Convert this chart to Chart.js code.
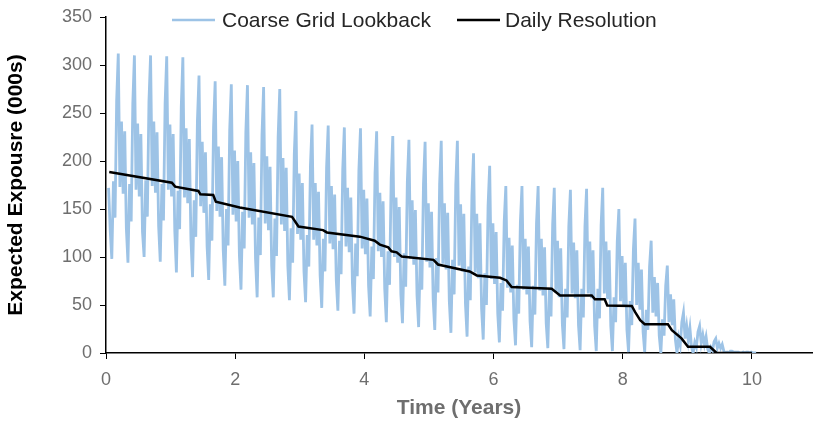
<!DOCTYPE html>
<html>
<head>
<meta charset="utf-8">
<script src="https://cdn.jsdelivr.net/npm/chart.js@4.4.1/dist/chart.umd.min.js"></script>
<style>
  body { margin: 0; background: #fff; }
  #chart { display: block; }
</style>
</head>
<body>
<canvas id="chart" width="814" height="423"></canvas>
<script>
// Expected exposure profile: coarse grid lookback vs daily resolution

// Coarse grid lookback, sampled every 0.025 years starting at t = 0.04
const coarseStart = 0.04;
const coarseStep = 0.025;
const coarseLead = [172, 128];
// one row per quarter (quarterly reset pattern)
const coarseQuarters = [
    [98, 179, 141, 263, 312, 173, 241, 166, 231, 130],
    [94, 176, 137, 260, 310, 170, 239, 163, 228, 126],
    [100, 180, 142, 262, 310, 174, 241, 167, 230, 132],
    [95, 176, 138, 260, 309, 170, 238, 163, 228, 127],
    [84, 169, 129, 256, 308, 162, 234, 156, 223, 118],
    [79, 159, 121, 241, 289, 153, 220, 146, 209, 111],
    [76, 155, 117, 235, 283, 148, 215, 142, 204, 107],
    [70, 150, 112, 232, 280, 144, 211, 137, 200, 102],
    [66, 147, 109, 230, 279, 141, 209, 134, 198, 98],
    [58, 141, 102, 227, 277, 135, 205, 128, 194, 91],
    [58, 140, 101, 225, 275, 134, 203, 127, 193, 91],
    [55, 130, 94, 207, 252, 124, 187, 118, 177, 85],
    [53, 123, 90, 195, 238, 118, 177, 112, 168, 81],
    [47, 119, 85, 193, 237, 114, 174, 108, 165, 76],
    [44, 117, 82, 191, 235, 111, 172, 105, 162, 73],
    [41, 114, 80, 190, 234, 109, 170, 103, 161, 70],
    [38, 111, 77, 187, 231, 106, 167, 100, 158, 67],
    [32, 106, 71, 181, 226, 100, 162, 94, 152, 61],
    [31, 104, 69, 178, 222, 98, 159, 92, 149, 60],
    [27, 100, 66, 176, 220, 95, 156, 89, 147, 56],
    [24, 99, 63, 176, 221, 93, 156, 87, 146, 54],
    [21, 97, 61, 175, 221, 91, 155, 85, 145, 51],
    [17, 90, 55, 164, 208, 84, 145, 78, 135, 46],
    [14, 83, 50, 153, 195, 77, 135, 72, 126, 41],
    [11, 73, 44, 137, 174, 68, 120, 63, 112, 35],
    [8, 71, 41, 136, 174, 66, 119, 61, 111, 33],
    [6, 70, 40, 135, 174, 65, 119, 60, 110, 31],
    [5, 68, 38, 134, 172, 63, 117, 58, 109, 30],
    [4, 67, 37, 132, 170, 62, 115, 57, 107, 29],
    [3, 67, 37, 132, 171, 62, 116, 57, 107, 28],
    [2, 67, 36, 133, 172, 62, 116, 56, 107, 28],
    [2, 58, 32, 116, 150, 54, 101, 49, 94, 24],
    [1, 54, 29, 108, 140, 50, 94, 45, 87, 22],
    [1, 45, 24, 90, 117, 42, 79, 38, 73, 18],
    [0, 35, 18, 70, 91, 32, 61, 29, 56, 14],
    [0, 16, 8, 32, 42, 15, 28, 13, 26, 6],
    [0, 11, 6, 22, 28, 10, 19, 9, 17, 4],
    [0, 6, 3, 12, 15, 5, 10, 5, 9, 2],
    [0, 1, 0, 2, 2, 1, 1, 1, 1, 0],
    [0, 1, 0, 1, 1, 0, 1, 0, 0, 0]
];

// Daily resolution (years, exposure 000s)
const dailyTimes = [0.05, 1.02, 1.07, 1.43, 1.46, 1.66, 1.70, 2.07, 2.88, 2.98, 3.36, 3.42,
    3.93, 4.16, 4.24, 4.37, 4.42, 4.50, 4.58, 5.07, 5.14, 5.63, 5.74, 6.10, 6.20, 6.28,
    6.90, 7.03, 7.52, 7.57, 7.72, 7.76, 8.14, 8.19, 8.27, 8.34, 8.70, 8.76, 8.91, 9.01,
    9.35, 9.45, 10.0];
const dailyValues = [188.5, 177.4, 173.3, 168.8, 165.4, 164.6, 157.7, 151.5, 141.9, 131.8, 128, 125.6,
    121.2, 117, 112.9, 110, 105.9, 104.9, 100.4, 97, 92.2, 84.9, 80.8, 78.4, 75.6, 68.7,
    67, 60, 60, 55.9, 55.9, 49.5, 49, 42.8, 34.2, 30, 30, 23.8, 15.2, 6.5,
    6.5, 0.3, 0];

const seriesNames = ["Coarse Grid Lookback", "Daily Resolution"];
const seriesColors = ["#9dc3e6", "#000000"];

const xTitle = "Time (Years)";
const yTitle = "Expected Expousre (000s)";

// build points
const coarseValues = coarseLead.concat(...coarseQuarters);
const coarsePoints = coarseValues.map((v, i) => ({ x: coarseStart + i * coarseStep, y: v }));
const dailyPoints = dailyTimes.map((t, i) => ({ x: t, y: dailyValues[i] }));

const tickColor = "#6e6e6e";
const fontFamily = "'Liberation Sans', Arial, sans-serif";

// legend drawn inside the plot, like the original
const legendPlugin = {
    id: "insideLegend",
    afterDraw(chart) {
        const ctx = chart.ctx;
        const items = [
            { line: [172, 215], text: 222 },
            { line: [457, 500], text: 505 },
        ];
        ctx.save();
        ctx.font = "21px " + fontFamily;
        ctx.textBaseline = "middle";
        items.forEach((it, i) => {
            ctx.strokeStyle = seriesColors[i];
            ctx.lineWidth = 2.5;
            ctx.beginPath();
            ctx.moveTo(it.line[0], 20);
            ctx.lineTo(it.line[1], 20);
            ctx.stroke();
            ctx.fillStyle = "#262626";
            ctx.fillText(seriesNames[i], it.text, 21);
        });
        ctx.restore();
    },
};

const config = {
    type: "line",
    data: {
        datasets: [
            {
                label: seriesNames[0],
                data: coarsePoints,
                borderColor: seriesColors[0],
                borderWidth: 2.8,
                borderJoinStyle: "miter",
                pointRadius: 0,
                tension: 0,
                order: 2,
            },
            {
                label: seriesNames[1],
                data: dailyPoints,
                borderColor: seriesColors[1],
                borderWidth: 2.5,
                pointRadius: 0,
                tension: 0,
                order: 1,
            },
        ],
    },
    options: {
        responsive: false,
        animation: false,
        devicePixelRatio: 1,
        layout: { padding: { top: 6, right: 2, left: 0, bottom: 0 } },
        plugins: {
            legend: { display: false },
            tooltip: { enabled: false },
        },
        scales: {
            x: {
                type: "linear",
                min: 0,
                max: 10.93,
                ticks: {
                    stepSize: 2,
                    includeBounds: false,
                    color: tickColor,
                    font: { family: fontFamily, size: 18 },
                    padding: 10,
                    maxRotation: 0,
                },
                grid: { drawOnChartArea: false, drawTicks: true, tickLength: 6, color: "#000" },
                border: { color: "#000", width: 1.5 },
                title: {
                    display: true,
                    text: xTitle,
                    color: tickColor,
                    font: { family: fontFamily, size: 21, weight: "bold" },
                    padding: { top: 0, bottom: 2 },
                },
                afterFit: (scale) => { scale.height = 70; },
            },
            y: {
                min: 0,
                max: 350,
                ticks: {
                    stepSize: 50,
                    color: tickColor,
                    font: { family: fontFamily, size: 18, lineHeight: 1 },
                    padding: 8,
                },
                grid: { drawOnChartArea: false, drawTicks: true, tickLength: 6, color: "#000" },
                border: { color: "#000", width: 1.5 },
                title: {
                    display: true,
                    text: yTitle,
                    color: "#000",
                    font: { family: fontFamily, size: 21, weight: "bold" },
                    padding: { top: 4, bottom: 0 },
                },
                afterFit: (scale) => { scale.width = 106; },
            },
        },
    },
    plugins: [legendPlugin],
};

new Chart(document.getElementById("chart"), config);
</script>
</body>
</html>
